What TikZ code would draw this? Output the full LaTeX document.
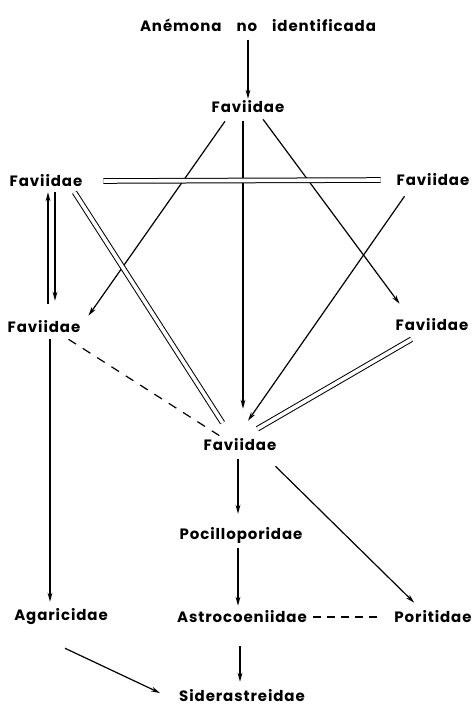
\documentclass[tikz,border=0pt]{standalone}
\usepackage{fontspec}
\setmainfont{Poppins}[LetterSpace=6]
\usetikzlibrary{arrows.meta}

\begin{document}
\begin{tikzpicture}[x=1pt,y=-1pt,
    lbl/.style={font=\fontsize{15}{17}\selectfont\bfseries,inner sep=2pt},
    arr/.style={line width=1.2pt,-{Stealth[length=9pt,width=4.8pt]}},
    twin/.style={double,double distance=3.6pt,line width=1pt},
    dashlink/.style={line width=1.2pt,dash pattern=on 9pt off 8pt}]
        \useasboundingbox (0,0) rectangle (475,708);
        \node[lbl] (anem) at (258,25) {Anémona\quad no\quad identificada};
        \node[lbl] (fa) at (248,107) {Faviidae};
        \node[lbl] (fb) at (46,181) {Faviidae};
        \node[lbl] (fc) at (433,180) {Faviidae};
        \node[lbl] (fd) at (44,327) {Faviidae};
        \node[lbl] (fe) at (432,325) {Faviidae};
        \node[lbl] (ff) at (240,445) {Faviidae};
        \node[lbl] (poc) at (241,535) {Pocilloporidae};
        \node[lbl] (aga) at (61,617) {Agaricidae};
        \node[lbl] (ast) at (242,617) {Astrocoeniidae};
        \node[lbl] (por) at (433,617) {Poritidae};
        \node[lbl] (sid) at (242,696) {Siderastreidae};
        \draw[arr] ([yshift=-6pt]anem.south -| fa.north) -- (fa.north);
        \draw[arr] ([xshift=-23pt,yshift=-6pt]fa.south) -- ([xshift=6pt,yshift=3pt]fd.north east);
        \draw[arr] ([xshift=-5pt,yshift=-6pt]fa.south) -- ([xshift=3pt,yshift=28pt]ff.north);
        \draw[arr] ([xshift=15pt,yshift=-4pt]fa.south) -- ([xshift=6pt,yshift=13pt]fe.north west);
        \draw[twin] ([xshift=19pt]fb.east) -- ([xshift=-14pt]fc.west);
        \draw[arr] ([xshift=9pt,yshift=-3pt]fb.south) -- ([xshift=11pt,yshift=18pt]fd.north);
        \draw[arr] ([xshift=4pt,yshift=15pt]fd.north) -- ([xshift=2pt,yshift=-3pt]fb.south);
        \draw[twin] ([xshift=-10pt,yshift=-3pt]fb.south east) -- ([xshift=21pt,yshift=14pt]ff.north west);
        \draw[arr] ([xshift=10pt,yshift=-8pt]fc.south west) -- ([xshift=8pt,yshift=16pt]ff.north);
        \draw[twin] ([xshift=18pt,yshift=-6pt]fe.south west) -- ([xshift=-21pt,yshift=8pt]ff.north east);
        \draw[dashlink] ([xshift=-14pt,yshift=-4pt]fd.south east) -- ([xshift=18pt,yshift=1pt]ff.north west);
        \draw[arr] ([xshift=6pt,yshift=-4pt]fd.south) -- ([xshift=-11pt,yshift=5pt]aga.north);
        \draw[arr] ([xshift=-2pt,yshift=-6pt]ff.south) -- ([xshift=-3pt,yshift=11pt]poc.north);
        \draw[arr] ([xshift=-3pt,yshift=-13pt]ff.south east) -- ([xshift=22pt,yshift=6pt]por.north west);
        \draw[arr] ([xshift=-3pt,yshift=-3pt]poc.south) -- ([xshift=-4pt,yshift=3pt]ast.north);
        \draw[dashlink,dash pattern=on 8pt off 6pt] ([xshift=4pt]ast.east) -- ([xshift=-11pt]por.west);
        \draw[arr] ([xshift=-2pt,yshift=-21pt]ast.south) -- ([xshift=-2pt,yshift=6pt]sid.north);
        \draw[arr] ([xshift=4pt,yshift=-21pt]aga.south) -- ([xshift=-17pt,yshift=3pt]sid.west);
      \end{tikzpicture}
\end{document}
